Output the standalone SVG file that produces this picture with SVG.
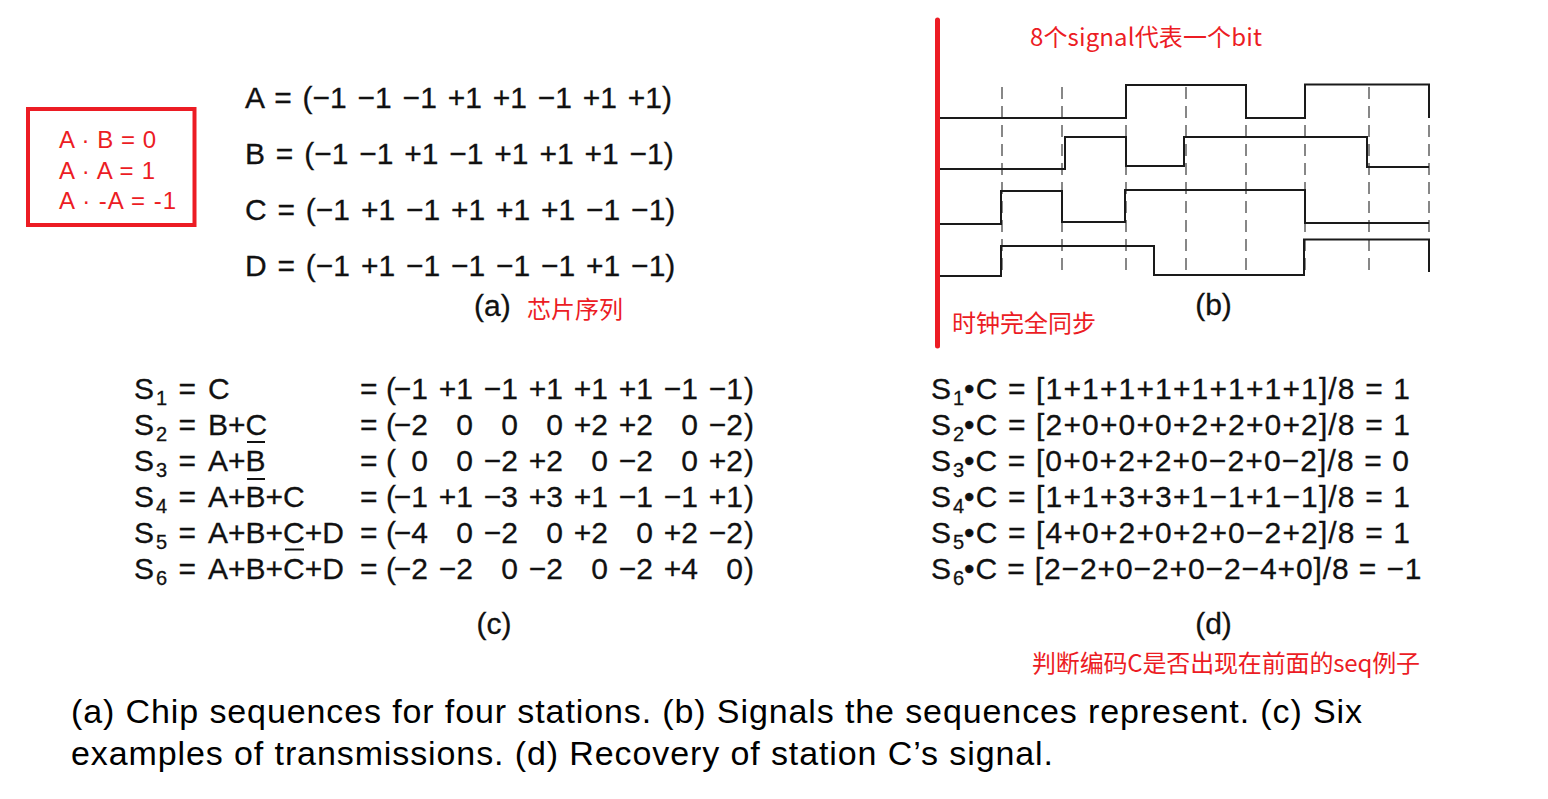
<svg xmlns="http://www.w3.org/2000/svg" width="1548" height="799" viewBox="0 0 1548 799">
<style>
  .eq { font-family: "Liberation Sans", Arial, Helvetica, sans-serif; font-size: 30px; fill: #111; stroke: #111; stroke-width: 0.3; }
  .sub { font-size: 20px; }
  .end { text-anchor: end; }
  .mid { text-anchor: middle; }
  .red { font-family: "Noto Sans CJK SC", "Noto Sans", sans-serif; fill: #ec1c24; font-size: 24px; }
  .redl { font-family: "Liberation Sans", Arial, sans-serif; fill: #ec1c24; font-size: 24px; }
  .cap { font-family: "Liberation Sans", Arial, Helvetica, sans-serif; font-size: 34px; fill: #000; }
  .wave { fill: none; stroke: #1a1a1a; stroke-width: 2; }
  .dash { stroke: #555; stroke-width: 1.4; stroke-dasharray: 12 7; }
  .ovl { stroke: #111; stroke-width: 2; }
</style>
<rect width="1548" height="799" fill="#ffffff"/>

<g id="note-box">
  <rect x="28" y="109" width="166.5" height="116" fill="none" stroke="#ec1c24" stroke-width="4"/>
  <text class="redl" x="59" y="148" textLength="97" lengthAdjust="spacing">A · B = 0</text>
  <text class="redl" x="59" y="178.5" textLength="96" lengthAdjust="spacing">A · A = 1</text>
  <text class="redl" x="59" y="209" textLength="117" lengthAdjust="spacing">A · -A = -1</text>
</g>

<g id="chip-sequences">
  <text class="eq" x="245" y="108" word-spacing="2.5">A = (−1 −1 −1 +1 +1 −1 +1 +1)</text>
  <text class="eq" x="245" y="164" word-spacing="2.5">B = (−1 −1 +1 −1 +1 +1 +1 −1)</text>
  <text class="eq" x="245" y="220" word-spacing="2.5">C = (−1 +1 −1 +1 +1 +1 −1 −1)</text>
  <text class="eq" x="245" y="276" word-spacing="2.5">D = (−1 +1 −1 −1 −1 −1 +1 −1)</text>
  <text class="eq" x="474" y="316">(a)</text>
  <text class="red" x="527" y="318">芯片序列</text>
</g>

<g id="signals">
  <g id="clock-lines">
    <line class="dash" x1="1002" y1="87" x2="1002" y2="271"/>
    <line class="dash" x1="1062" y1="87" x2="1062" y2="271"/>
    <line class="dash" x1="1126" y1="87" x2="1126" y2="271"/>
    <line class="dash" x1="1186" y1="87" x2="1186" y2="271"/>
    <line class="dash" x1="1246" y1="87" x2="1246" y2="271"/>
    <line class="dash" x1="1305" y1="87" x2="1305" y2="271"/>
    <line class="dash" x1="1369" y1="87" x2="1369" y2="271"/>
    <line class="dash" x1="1429" y1="87" x2="1429" y2="271"/>
  </g>
  <path id="wave-a" class="wave" d="M940 118 H1126 V85 H1246 V118 H1305 V84.5 H1429 V118"/>
  <path id="wave-b" class="wave" d="M940 169 H1065 V137 H1126 V166 H1184 V137 H1367 V167 H1429"/>
  <path id="wave-c" class="wave" d="M940 224 H1001 V191 H1062 V222 H1125 V190 H1305 V223 H1429"/>
  <path id="wave-d" class="wave" d="M940 276 H1001 V246 H1154 V275 H1304 V239.5 H1429 V272"/>
  <line id="sync-bar" x1="937.5" y1="20" x2="937.5" y2="346" stroke="#ec1c24" stroke-width="5" stroke-linecap="round"/>
  <text class="red" x="1030" y="46" font-size="25" textLength="232" lengthAdjust="spacing">8个signal代表一个bit</text>
  <text class="red" x="952" y="332">时钟完全同步</text>
  <text class="eq mid" x="1213.5" y="315">(b)</text>
</g>

<g id="transmissions">
  <g id="c-left">
    <text class="eq" x="134" y="399">S</text><text class="eq sub" x="156" y="405">1</text><text class="eq" x="178.5" y="399">=</text><text class="eq" x="208" y="399">C</text>
    <text class="eq" x="134" y="435">S</text><text class="eq sub" x="156" y="441">2</text><text class="eq" x="178.5" y="435">=</text><text class="eq" x="208" y="435">B+C</text>
    <text class="eq" x="134" y="471">S</text><text class="eq sub" x="156" y="477">3</text><text class="eq" x="178.5" y="471">=</text><text class="eq" x="208" y="471">A+B</text>
    <text class="eq" x="134" y="507">S</text><text class="eq sub" x="156" y="513">4</text><text class="eq" x="178.5" y="507">=</text><text class="eq" x="208" y="507">A+B+C</text>
    <text class="eq" x="134" y="543">S</text><text class="eq sub" x="156" y="549">5</text><text class="eq" x="178.5" y="543">=</text><text class="eq" x="208" y="543">A+B+C+D</text>
    <text class="eq" x="134" y="579">S</text><text class="eq sub" x="156" y="585">6</text><text class="eq" x="178.5" y="579">=</text><text class="eq" x="208" y="579">A+B+C+D</text>
    <line class="ovl" x1="247" y1="442" x2="265" y2="442"/>
    <line class="ovl" x1="247" y1="479" x2="265" y2="479"/>
    <line class="ovl" x1="285" y1="549.5" x2="304" y2="549.5"/>
  </g>
  <g id="c-right">
    <text class="eq" x="360" y="399">=</text><text class="eq" x="386" y="399">(</text>
    <text class="eq end" x="428" y="399">−1</text><text class="eq end" x="473" y="399">+1</text><text class="eq end" x="518" y="399">−1</text><text class="eq end" x="563" y="399">+1</text><text class="eq end" x="608" y="399">+1</text><text class="eq end" x="653" y="399">+1</text><text class="eq end" x="698" y="399">−1</text><text class="eq end" x="743" y="399">−1</text><text class="eq" x="744" y="399">)</text>

    <text class="eq" x="360" y="435">=</text><text class="eq" x="386" y="435">(</text>
    <text class="eq end" x="428" y="435">−2</text><text class="eq end" x="473" y="435">0</text><text class="eq end" x="518" y="435">0</text><text class="eq end" x="563" y="435">0</text><text class="eq end" x="608" y="435">+2</text><text class="eq end" x="653" y="435">+2</text><text class="eq end" x="698" y="435">0</text><text class="eq end" x="743" y="435">−2</text><text class="eq" x="744" y="435">)</text>

    <text class="eq" x="360" y="471">=</text><text class="eq" x="386" y="471">(</text>
    <text class="eq end" x="428" y="471">0</text><text class="eq end" x="473" y="471">0</text><text class="eq end" x="518" y="471">−2</text><text class="eq end" x="563" y="471">+2</text><text class="eq end" x="608" y="471">0</text><text class="eq end" x="653" y="471">−2</text><text class="eq end" x="698" y="471">0</text><text class="eq end" x="743" y="471">+2</text><text class="eq" x="744" y="471">)</text>

    <text class="eq" x="360" y="507">=</text><text class="eq" x="386" y="507">(</text>
    <text class="eq end" x="428" y="507">−1</text><text class="eq end" x="473" y="507">+1</text><text class="eq end" x="518" y="507">−3</text><text class="eq end" x="563" y="507">+3</text><text class="eq end" x="608" y="507">+1</text><text class="eq end" x="653" y="507">−1</text><text class="eq end" x="698" y="507">−1</text><text class="eq end" x="743" y="507">+1</text><text class="eq" x="744" y="507">)</text>

    <text class="eq" x="360" y="543">=</text><text class="eq" x="386" y="543">(</text>
    <text class="eq end" x="428" y="543">−4</text><text class="eq end" x="473" y="543">0</text><text class="eq end" x="518" y="543">−2</text><text class="eq end" x="563" y="543">0</text><text class="eq end" x="608" y="543">+2</text><text class="eq end" x="653" y="543">0</text><text class="eq end" x="698" y="543">+2</text><text class="eq end" x="743" y="543">−2</text><text class="eq" x="744" y="543">)</text>

    <text class="eq" x="360" y="579">=</text><text class="eq" x="386" y="579">(</text>
    <text class="eq end" x="428" y="579">−2</text><text class="eq end" x="473" y="579">−2</text><text class="eq end" x="518" y="579">0</text><text class="eq end" x="563" y="579">−2</text><text class="eq end" x="608" y="579">0</text><text class="eq end" x="653" y="579">−2</text><text class="eq end" x="698" y="579">+4</text><text class="eq end" x="743" y="579">0</text><text class="eq" x="744" y="579">)</text>
  </g>
  <text class="eq mid" x="494" y="634">(c)</text>
</g>

<g id="recovery">
  <text class="eq" x="931" y="399">S</text><text class="eq sub" x="953" y="405">1</text><text class="eq" x="964" y="399" textLength="446" lengthAdjust="spacing">•C = [1+1+1+1+1+1+1+1]/8 = 1</text>
  <text class="eq" x="931" y="435">S</text><text class="eq sub" x="953" y="441">2</text><text class="eq" x="964" y="435" textLength="446" lengthAdjust="spacing">•C = [2+0+0+0+2+2+0+2]/8 = 1</text>
  <text class="eq" x="931" y="471">S</text><text class="eq sub" x="953" y="477">3</text><text class="eq" x="964" y="471" textLength="445" lengthAdjust="spacing">•C = [0+0+2+2+0−2+0−2]/8 = 0</text>
  <text class="eq" x="931" y="507">S</text><text class="eq sub" x="953" y="513">4</text><text class="eq" x="964" y="507" textLength="446" lengthAdjust="spacing">•C = [1+1+3+3+1−1+1−1]/8 = 1</text>
  <text class="eq" x="931" y="543">S</text><text class="eq sub" x="953" y="549">5</text><text class="eq" x="964" y="543" textLength="446" lengthAdjust="spacing">•C = [4+0+2+0+2+0−2+2]/8 = 1</text>
  <text class="eq" x="931" y="579">S</text><text class="eq sub" x="953" y="585">6</text><text class="eq" x="964" y="579" textLength="457.5" lengthAdjust="spacing">•C = [2−2+0−2+0−2−4+0]/8 = −1</text>
  <text class="eq mid" x="1213.5" y="634">(d)</text>
  <text class="red" x="1032" y="672" font-size="25" textLength="388" lengthAdjust="spacing">判断编码C是否出现在前面的seq例子</text>
</g>

<g id="caption">
  <text class="cap" x="71" y="723" textLength="1291" lengthAdjust="spacing">(a) Chip sequences for four stations. (b) Signals the sequences represent. (c) Six</text>
  <text class="cap" x="71" y="765" textLength="982" lengthAdjust="spacing">examples of transmissions. (d) Recovery of station C’s signal.</text>
</g>
</svg>
